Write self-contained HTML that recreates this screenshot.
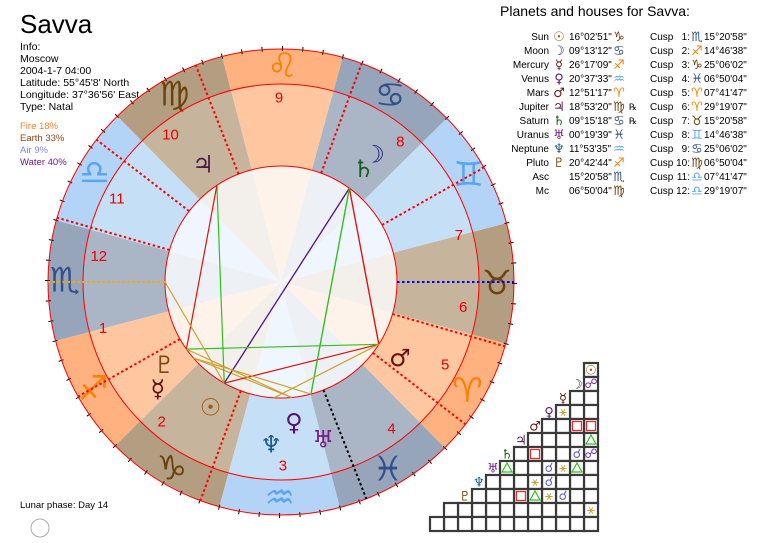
<!DOCTYPE html>
<html><head><meta charset="utf-8"><style>
body{margin:0;background:#fff;width:772px;height:546px;overflow:hidden}
svg{display:block}
text{font-family:"Liberation Sans","DejaVu Sans",sans-serif}
.g{font-family:"DejaVu Sans",sans-serif}
</style></head><body>
<svg id="c" width="772" height="546" viewBox="0 0 772 546">
<text x="20" y="33" font-size="26">Savva</text>
<g font-size="10.5">
<text x="20" y="50">Info:</text><text x="20" y="62">Moscow</text><text x="20" y="74">2004-1-7 04:00</text>
<text x="20" y="86">Latitude: 55°45'8' North</text><text x="20" y="98">Longitude: 37°36'56' East</text><text x="20" y="110">Type: Natal</text>
</g>
<g font-size="9.5">
<text x="20" y="129" fill="#ff7f1f">Fire 18%</text><text x="20" y="141" fill="#8a4a1a">Earth 33%</text>
<text x="20" y="153" fill="#8080ff">Air 9%</text><text x="20" y="165" fill="#6a1a8a">Water 40%</text>
</g>
<text x="20" y="508" font-size="9.5">Lunar phase: Day 14</text>
<circle cx="40" cy="528" r="9" fill="#fff" stroke="#aaa" stroke-width="1"/>
<text x="500" y="16" font-size="14">Planets and houses for Savva:</text>
<g id="wheel"></g>
<g id="table"></g>
<g id="grid"></g>
</svg>
<script>
const planetNames=["Sun","Moon","Mercury","Venus","Mars","Jupiter","Saturn","Uranus","Neptune","Pluto"];
const planetGlyphs=["☉","☽","☿","♀","♂","♃","♄","♅","♆","♇"];
const planetLongitudes=[286.047,99.22,266.29,320.63,12.85,168.89,99.26,330.33,311.89,260.71];
const planetDegreeText=["16°02'51\"","09°13'12\"","26°17'09\"","20°37'33\"","12°51'17\"","18°53'20\"","09°15'18\"","00°19'39\"","11°53'35\"","20°42'44\""];
const planetRetro=[0,0,0,0,0,1,1,0,0,0];
const ascLongitude=225.35, mcLongitude=156.83;
const cuspLongitudes=[225.35,254.78,295.10,336.83,7.70,29.32,45.35,74.78,115.10,156.83,187.70,209.32];
const cuspDegreeText=["15°20'58\"","14°46'38\"","25°06'02\"","06°50'04\"","07°41'47\"","29°19'07\"","15°20'58\"","14°46'38\"","25°06'02\"","06°50'04\"","07°41'47\"","29°19'07\""];
const signGlyphs=["♈","♉","♊","♋","♌","♍","♎","♏","♐","♑","♒","♓"];
const signNames=["aries","taurus","gemini","cancer","leo","virgo","libra","scorpio","sagittarius","capricorn","aquarius","pisces"];
// aspects: [rowIndex, colIndex, type]; index 10 = Asc
const aspectRows=[1,3,4,4,5,6,6,6,7,7,7,7,8,8,9,9,9,9,10];
const aspectCols=[0,2,1,0,0,4,1,0,6,3,2,1,4,3,5,4,3,2,0];
const aspectTypes=["opp","sex","sq","sq","tri","sq","con","opp","tri","con","sex","tri","sex","con","sq","tri","sex","con","sex"];
</script>
<script>
const NS="http://www.w3.org/2000/svg";
const cx=281,cy=282,R1=233,R2=198,R3=116;
const wheel=document.getElementById('wheel');
function mk(tag,at,parent){const e=document.createElementNS(NS,tag);for(const k in at)e.setAttribute(k,at[k]);(parent||wheel).appendChild(e);return e;}
function ang(l){return (180+l-ascLongitude)*Math.PI/180;}
function px(l,r){return [cx+r*Math.cos(ang(l)),cy-r*Math.sin(ang(l))];}
const elem=["fire","earth","air","water"];
const outerCol={fire:"#ffb27f",earth:"#b49e81",air:"#b3d4f7",water:"#97a5bb"};
const midCol={fire:"#ffc79f",earth:"#c6b49c",air:"#c5dff7",water:"#aab5c6"};
const innCol={fire:"#fef3eb",earth:"#f3f0ec",air:"#eff6fe",water:"#edf0f4"};
const glyphCol={fire:"#ff7f00",earth:"#6b4310",air:"#5aa5ee",water:"#34508a"};
function sector(l1,l2,ra,rb,fill){
  const a=px(l1,ra),b=px(l2,ra),c=px(l2,rb),d=px(l1,rb);
  let p=`M${a[0]},${a[1]} A${ra},${ra} 0 0 0 ${b[0]},${b[1]} L${c[0]},${c[1]}`;
  p+= rb>0?` A${rb},${rb} 0 0 1 ${d[0]},${d[1]} Z`:' Z';
  return mk('path',{d:p,fill:fill,stroke:'none'});
}
for(let s=0;s<12;s++){
  const e=elem[s%4];
  let el=sector(s*30,s*30+30,R1,R2,outerCol[e]);
  
  
  el=sector(s*30,s*30+30,R2,R3,midCol[e]);
  
  
  el=sector(s*30,s*30+30,R3,0.01,innCol[e]);
  
  
  const g=px(s*30+15,216);
  const t=mk('text',{x:g[0],y:g[1],'font-size':34,fill:glyphCol[e],'text-anchor':'middle','dominant-baseline':'central',class:'g'});
  t.textContent=signGlyphs[s];
  
  
}
for(let d=0;d<360;d+=5){const a=px(d,R1-2),b=px(d,R1+3);mk('line',{x1:a[0],y1:a[1],x2:b[0],y2:b[1],stroke:'#000','stroke-width':1});}
[R1,R2,R3].forEach((r,i)=>{const c=mk('circle',{cx:cx,cy:cy,r:r,fill:'none',stroke:'#f00','stroke-width':1});

});
for(let h=0;h<12;h++){
  const l1=cuspLongitudes[h],l2=cuspLongitudes[(h+1)%12];
  let span=(l2-l1+360)%360;const mid=l1+span/2;
  const p=px(mid,184);
  const t=mk('text',{x:p[0],y:p[1],'font-size':15,fill:'#e00','text-anchor':'middle','dominant-baseline':'central'});
  t.textContent=h+1;
  
  
  const a=px(l1,R3),b=px(l1,R1);
  const col=h===0?'#ffa500':h===6?'#0000ee':h===3?'#000':'#f00';
  const ln=mk('line',{x1:a[0],y1:a[1],x2:b[0],y2:b[1],stroke:col,'stroke-width':2,'stroke-dasharray':'2.5,2.5'});
  
  
}
const aspCol={opp:'#5a1a8a',sq:'#e01010',tri:'#30c020',sex:'#d0a030',con:null};
const allLon=planetLongitudes.concat([ascLongitude]);
for(let i=0;i<aspectTypes.length;i++){
  const c=aspCol[aspectTypes[i]];if(!c)continue;
  const a=px(allLon[aspectRows[i]],R3),b=px(allLon[aspectCols[i]],R3);
  const ln=mk('line',{x1:a[0],y1:a[1],x2:b[0],y2:b[1],stroke:c,'stroke-width':1.2});
  
  
}
const pCol=["#a05a10","#1f1f6b","#5a1010","#5a1070","#6a1010","#4a1a4a","#1a5a1a","#7a1a8a","#1a5a8a","#7a4a10"];
const pRad=[144,158,163,141,141,141,140,163,163,143];
for(let i=0;i<10;i++){
  const p=px(planetLongitudes[i],pRad[i]);
  const t=mk('text',{x:p[0],y:p[1],'font-size':24,fill:pCol[i],'text-anchor':'middle','dominant-baseline':'central',class:'g'});
  t.textContent=planetGlyphs[i];
  
  
}
const tb=document.getElementById('table');
const rowsN=planetNames.concat(["Asc","Mc"]);
const rowsD=planetDegreeText.concat(["15°20'58\"","06°50'04\""]);
const rowsL=planetLongitudes.concat([ascLongitude,mcLongitude]);
for(let i=0;i<12;i++){
  const y=40+i*14;
  let t=mk('text',{x:549,y:y,'font-size':10,'text-anchor':'end'},tb);t.textContent=rowsN[i];
  
  
  if(i<10){t=mk('text',{x:559,y:y+1,'font-size':13,fill:pCol[i],'text-anchor':'middle',class:'g','font-weight':'bold'},tb);t.textContent=planetGlyphs[i];}
  const s=Math.floor(rowsL[i]/30);
  t=mk('text',{x:569,y:y,'font-size':10},tb);t.textContent=rowsD[i];
  
  
  t=mk('text',{x:619,y:y+1,'font-size':13,fill:glyphCol[elem[s%4]],'text-anchor':'middle',class:'g'},tb);t.textContent=signGlyphs[s];
  if(i<10&&planetRetro[i]){t=mk('text',{x:629,y:y,'font-size':9,class:'g'},tb);t.textContent="℞";}
  const cs=Math.floor(cuspLongitudes[i]/30);
  t=mk('text',{x:650,y:y,'font-size':10},tb);t.textContent="Cusp";
  t=mk('text',{x:690,y:y,'font-size':10,'text-anchor':'end'},tb);t.textContent=(i+1)+":";
  
  
  t=mk('text',{x:697,y:y+1,'font-size':13,fill:glyphCol[elem[cs%4]],'text-anchor':'middle',class:'g'},tb);t.textContent=signGlyphs[cs];
  t=mk('text',{x:704,y:y,'font-size':10},tb);t.textContent=cuspDegreeText[i];
}
const gr=document.getElementById('grid');
const C=14,RX=598,TY=363;
for(let r=0;r<12;r++){
  for(let c=0;c<=r;c++){
    const x=RX-(c+1)*C,y=TY+r*C;
    const diag=(c===r&&r>=1&&r<=9);
    if(!diag){const rc=mk('rect',{x:x,y:y,width:C,height:C,fill:'#fff',stroke:'#3a3a3a','stroke-width':2.2},gr);
      
      }
    if(c===r&&r<10){const t=mk('text',{x:x+C/2,y:y+C/2+1,'font-size':13,fill:pCol[r],'text-anchor':'middle','dominant-baseline':'central',class:'g','font-weight':'bold'},gr);t.textContent=planetGlyphs[r];}
  }
}
for(let i=0;i<aspectTypes.length;i++){
  const x=RX-(aspectCols[i]+1)*C,y=TY+aspectRows[i]*C,ty=aspectTypes[i];
  let e;
  if(ty==='sq')e=mk('rect',{x:x+2.5,y:y+2.5,width:9,height:9,fill:'none',stroke:'#e03030','stroke-width':1.3},gr);
  else if(ty==='tri')e=mk('polygon',{points:`${x+7},${y+2} ${x+12},${y+11} ${x+2},${y+11}`,fill:'none',stroke:'#30c020','stroke-width':1.2},gr);
  else{e=mk('text',{x:x+7,y:y+7.5,'font-size':13,'text-anchor':'middle','dominant-baseline':'central',class:'g',fill:ty==='sex'?'#d0a030':ty==='con'?'#6060e0':'#7030a0'},gr);
    e.textContent=ty==='sex'?'⚹':ty==='con'?'☌':'☍';}
  
  
}
</script>
</body></html>
